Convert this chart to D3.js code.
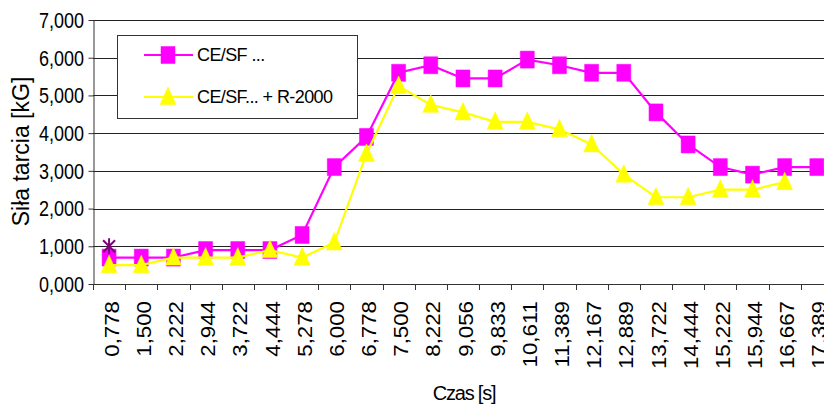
<!DOCTYPE html>
<html>
<head>
<meta charset="utf-8">
<script src="https://cdn.jsdelivr.net/npm/d3@7"></script>
<style>
  html, body { margin: 0; padding: 0; background: #fff; }
  svg { display: block; }
  text { font-family: Arial, "Liberation Sans", sans-serif; fill: #000; }
</style>
</head>
<body>
<div id="chart"></div>
<script>
// ---- data ----
const categories = ["0,778","1,500","2,222","2,944","3,722","4,444","5,278","6,000","6,778","7,500","8,222","9,056","9,833","10,611","11,389","12,167","12,889","13,722","14,444","15,222","15,944","16,667","17,389"];
const seriesNames = ["CE/SF ...", "CE/SF... + R-2000"];
const seriesA = [0.70,0.70,0.70,0.90,0.90,0.90,1.30,3.10,3.90,5.60,5.80,5.45,5.45,5.95,5.80,5.60,5.60,4.55,3.70,3.10,2.90,3.10,3.10];
const seriesB = [0.50,0.50,0.70,0.70,0.70,0.90,0.70,1.10,3.45,5.25,4.75,4.55,4.30,4.30,4.10,3.70,2.90,2.30,2.30,2.50,2.50,2.70,null];
const seriesC = [1.00,null,null,null,null,null,null,null,null,null,null,null,null,null,null,null,null,null,null,null,null,null,null];
const yTicks = [0,1,2,3,4,5,6,7];
const yTitle = "Siła tarcia [kG]";
const xTitle = "Czas [s]";

// ---- setup ----
const W = 824, H = 408;
const SY = 1.2; // vertical stretch of glyphs/markers
const mLeft = 93, mTop = 20, mBottom = 284, band = 32.17;
const svg = d3.select("#chart").append("svg").attr("width", W).attr("height", H);

const x = d3.scaleBand().domain(categories).range([mLeft, mLeft + band * categories.length]).padding(0);
const y = d3.scaleLinear().domain([0, 7]).range([mBottom, mTop]);
const fmt = d3.formatLocale({decimal: ",", thousands: " ", grouping: [3], currency: ["", ""]}).format(".3f");
const cx = d => x(d) + x.bandwidth() / 2;

// gridlines
svg.append("g").selectAll("line").data(yTicks.filter(d => d > 0)).join("line")
  .attr("x1", mLeft).attr("x2", W)
  .attr("y1", d => Math.round(y(d)) + 0.5).attr("y2", d => Math.round(y(d)) + 0.5)
  .attr("stroke", "#222").attr("stroke-width", 1);

// y axis
const yAxis = svg.append("g").attr("transform", `translate(${mLeft + 0.5},0)`)
  .call(d3.axisLeft(y).tickValues(yTicks).tickSize(5).tickSizeOuter(0).tickFormat(""));
yAxis.select(".domain").attr("stroke", "#333");
yAxis.selectAll(".tick line").attr("stroke", "#333");

svg.append("g").selectAll("text").data(yTicks).join("text")
  .attr("transform", d => `translate(84,${y(d)}) scale(1,${SY})`)
  .attr("text-anchor", "end").attr("dy", "0.36em")
  .style("font-size", "18px")
  .text(d => fmt(d));

// x axis
const xAxis = svg.append("g").attr("transform", `translate(0,${mBottom + 0.5})`)
  .call(d3.axisBottom(x).tickSize(0).tickFormat(""));
xAxis.select(".domain").attr("stroke", "#333").attr("d", `M${mLeft},0H${W}`);
svg.append("g").selectAll("line").data(categories).join("line")
  .attr("x1", d => Math.round(x(d)) + 0.5).attr("x2", d => Math.round(x(d)) + 0.5)
  .attr("y1", mBottom).attr("y2", mBottom + 6).attr("stroke", "#333");

svg.append("g").selectAll("text").data(categories).join("text")
  .attr("transform", d => `translate(${cx(d) + 2},301) scale(1,1.06) rotate(-90)`)
  .attr("text-anchor", "end").attr("dy", "0.36em")
  .style("font-size", "21px")
  .text(d => d);

// titles
svg.append("text")
  .attr("transform", `translate(28.5,151.5) rotate(-90)`)
  .attr("text-anchor", "middle")
  .style("font-size", "23px")
  .text(yTitle);
svg.append("text")
  .attr("transform", `translate(464,400)`)
  .attr("text-anchor", "middle")
  .style("font-size", "20px").style("letter-spacing", "-1.2px")
  .text(xTitle);

// markers
const squarePath = "M-7,-8.5H7V8.5H-7Z";
const triPath = "M0,-10L8,7.5H-8Z";
const starPath = "M0,-8V8M-6,-6L6,6M6,-6L-6,6";

function drawSeries(vals, color, markerPath, withLine) {
  const pts = categories.map((c, i) => ({c, v: vals[i]})).filter(p => p.v != null);
  if (withLine) {
    svg.append("path").datum(pts)
      .attr("fill", "none").attr("stroke", color).attr("stroke-width", 2.2)
      .attr("d", d3.line().x(p => cx(p.c)).y(p => y(p.v)));
  }
  svg.append("g").selectAll("path").data(pts).join("path")
    .attr("transform", p => `translate(${cx(p.c)},${y(p.v)})`)
    .attr("d", markerPath)
    .attr("fill", color).attr("stroke", color).attr("stroke-width", withLine ? 0.5 : 2);
}
drawSeries(seriesA, "#ff00ff", squarePath, true);
drawSeries(seriesB, "#ffff00", triPath, true);
svg.append("g").selectAll("path").data(categories.map((c, i) => ({c, v: seriesC[i]})).filter(p => p.v != null)).join("path")
  .attr("transform", p => `translate(${cx(p.c)},${y(p.v)})`)
  .attr("d", starPath).attr("fill", "none").attr("stroke", "#800080").attr("stroke-width", 2);

// legend
const lg = svg.append("g");
lg.append("rect").attr("x", 117.5).attr("y", 35.5).attr("width", 240).attr("height", 83)
  .attr("fill", "#fff").attr("stroke", "#333").attr("stroke-width", 1);
const legendItems = [
  {name: seriesNames[0], color: "#ff00ff", marker: squarePath, yy: 55},
  {name: seriesNames[1], color: "#ffff00", marker: triPath, yy: 97}
];
legendItems.forEach(it => {
  lg.append("line").attr("x1", 144).attr("x2", 193).attr("y1", it.yy).attr("y2", it.yy)
    .attr("stroke", it.color).attr("stroke-width", 2);
  lg.append("path").attr("transform", `translate(168,${it.yy})`).attr("d", it.marker)
    .attr("fill", it.color).attr("stroke", it.color).attr("stroke-width", 0.5);
  lg.append("text").attr("transform", `translate(197,${it.yy})`)
    .attr("dy", "0.36em").style("font-size", "18px").style("letter-spacing", "-0.6px")
    .text(it.name);
});
</script>
</body>
</html>
